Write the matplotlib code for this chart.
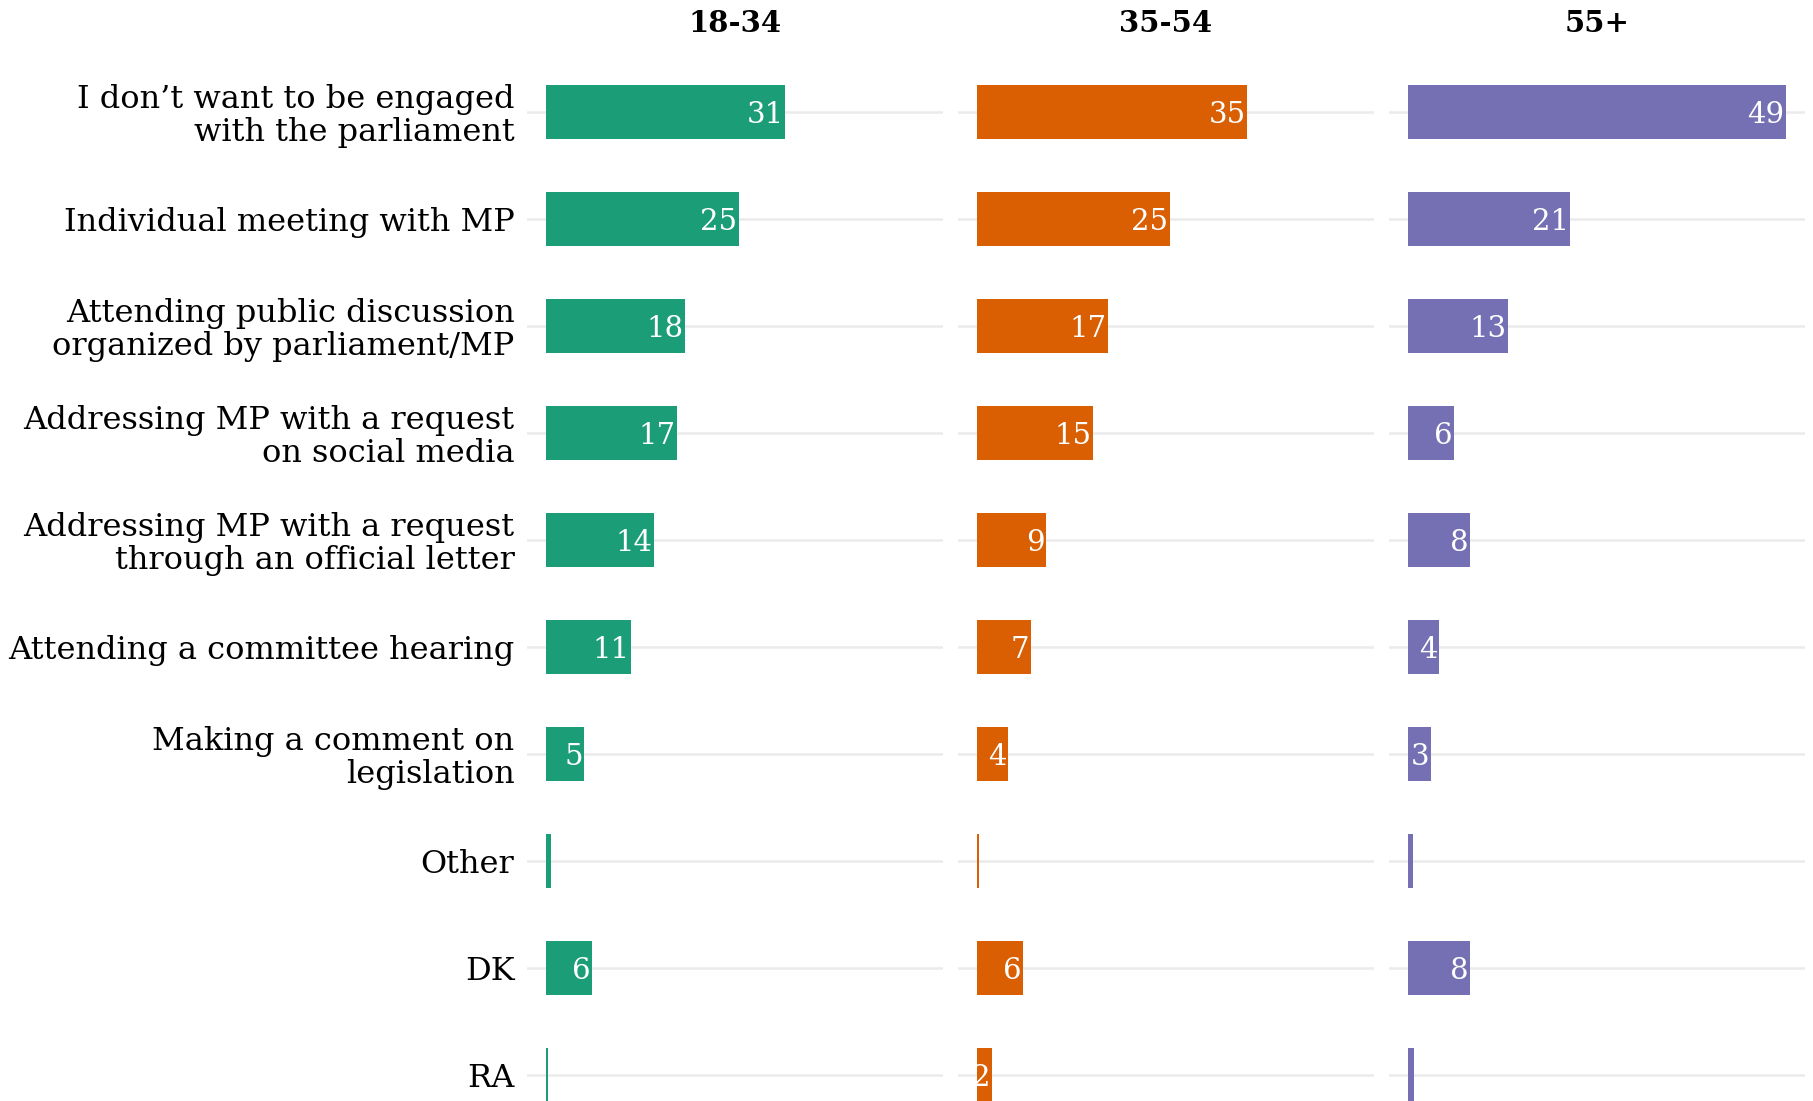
import numpy as np
import matplotlib
matplotlib.use('Agg')
import matplotlib.pyplot as plt

# Response options, top to bottom
categories = [
    "I don\u2019t want to be engaged\nwith the parliament",
    "Individual meeting with MP",
    "Attending public discussion\norganized by parliament/MP",
    "Addressing MP with a request\non social media",
    "Addressing MP with a request\nthrough an official letter",
    "Attending a committee hearing",
    "Making a comment on\nlegislation",
    "Other",
    "DK",
    "RA",
]

age_groups = ["18-34", "35-54", "55+"]

share_18_34 = [31, 25, 18, 17, 14, 11, 5, 0.6, 6, 0.3]
share_35_54 = [35, 25, 17, 15, 9, 7, 4, 0.3, 6, 2]
share_55_plus = [49, 21, 13, 6, 8, 4, 3, 0.6, 8, 0.8]

colors = ["#1B9E77", "#D95F02", "#7570B3"]

W, H, DPI = 1813, 1101, 100
plt.rcParams['font.family'] = ['DejaVu Serif']

fig = plt.figure(figsize=(W / DPI, H / DPI), dpi=DPI)

series = [share_18_34, share_35_54, share_55_plus]
xmax = max(max(s) for s in series)
pad = xmax * 0.05
y = np.arange(len(categories))

panel_left = [527, 958, 1389]
panel_w = 416
row_h = 107
top_px = 112 - 0.6 * row_h
ax_h = (len(categories) + 0.2) * row_h

for i, (vals, col, title) in enumerate(zip(series, colors, age_groups)):
    ax = fig.add_axes([panel_left[i] / W, 1 - (top_px + ax_h) / H,
                       panel_w / W, ax_h / H])
    ax.barh(y, vals, height=0.5, color=col, zorder=2)
    for yi, v in zip(y, vals):
        if v >= 1:
            ax.annotate(f"{v:.0f}", (v, yi), xytext=(-1, 0),
                        textcoords='offset points', ha='right',
                        va='center_baseline', color='white', fontsize=21,
                        zorder=3)
    ax.set_xlim(-pad, xmax + pad)
    ax.set_ylim(len(categories) - 0.4, -0.6)
    ax.set_xticks([])
    ax.set_yticks(y)
    ax.grid(axis='y', color='#EBEBEB', lw=1.8, zorder=0)
    ax.tick_params(axis='y', length=0, pad=9)
    if i == 0:
        ax.set_yticklabels(categories, fontsize=23, linespacing=1.08)
    else:
        ax.set_yticklabels([])
    for s in ax.spines.values():
        s.set_visible(False)
    fig.text((panel_left[i] + panel_w / 2) / W, 1 - 23 / H, title,
             ha='center', va='center', fontsize=21, fontweight='bold')

fig.savefig('out.png', dpi=DPI)
